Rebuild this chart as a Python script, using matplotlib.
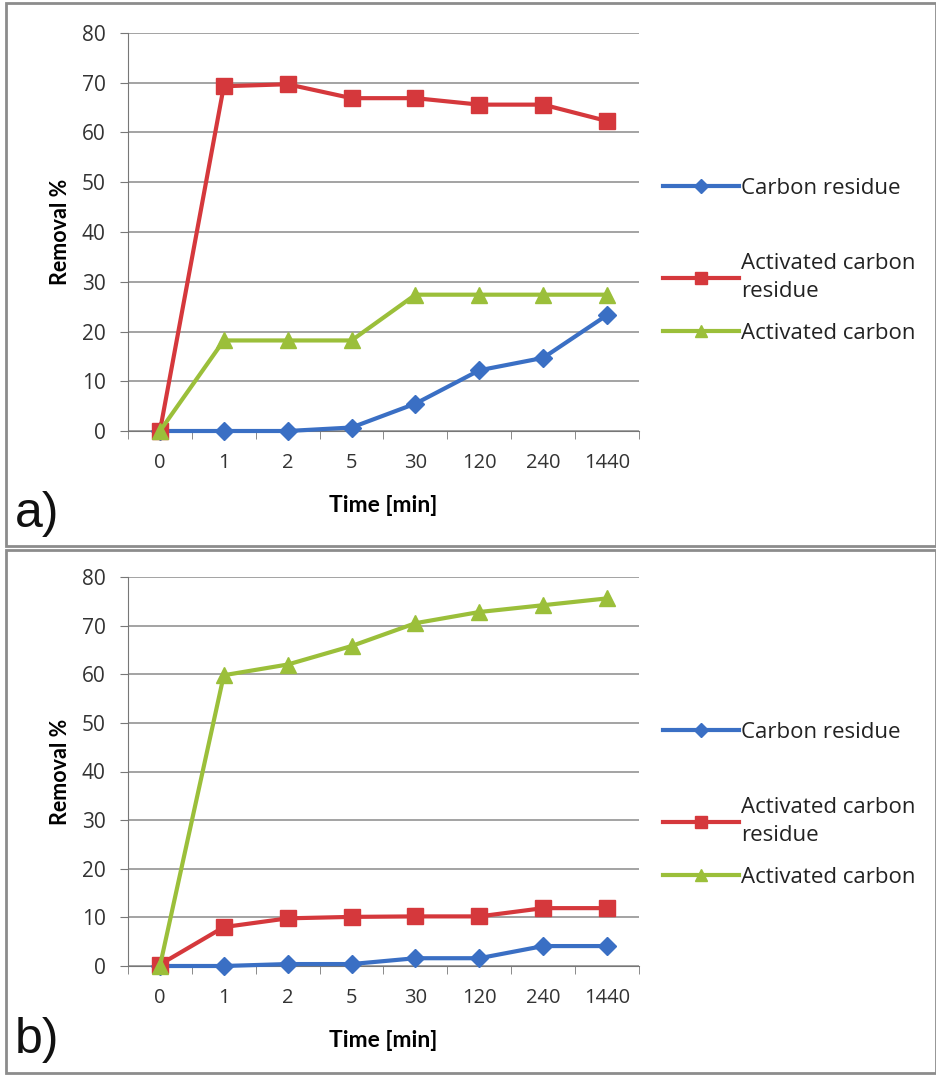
import matplotlib
matplotlib.use("Agg")
import matplotlib.pyplot as plt
from matplotlib.patches import Rectangle

# category labels on the x axis (Excel-style evenly spaced categories)
time_labels = ["0", "1", "2", "5", "30", "120", "240", "1440"]
series_names = ["Carbon residue", "Activated carbon\nresidue", "Activated carbon"]

# panel a)
a_carbon_residue = [0, 0, 0, 0.7, 5.5, 12.2, 14.7, 23.3]
a_activated_residue = [0, 69.3, 69.7, 66.9, 66.9, 65.6, 65.6, 62.3]
a_activated_carbon = [0, 18.2, 18.2, 18.2, 27.4, 27.4, 27.4, 27.4]

# panel b)
b_carbon_residue = [0, 0, 0.4, 0.4, 1.6, 1.6, 4.1, 4.1]
b_activated_residue = [0.3, 8.0, 9.8, 10.1, 10.2, 10.2, 11.9, 11.9]
b_activated_carbon = [0, 59.8, 62.0, 65.8, 70.5, 72.8, 74.2, 75.6]

COLORS = ["#3a6fc4", "#d5383c", "#9bbf3a"]
MARKERS = ["D", "s", "^"]
MSIZES = [9, 11, 11]
TICK_FONT = "Open Sans"
W, H = 937, 1076


def _legend(ax, handles, labels, anchor_y):
    leg = ax.legend(handles, labels, loc="upper left", bbox_to_anchor=(1.03, anchor_y),
                    frameon=False, prop={"family": TICK_FONT, "size": 16},
                    handlelength=3.4, handletextpad=0.1, labelspacing=0.95,
                    markerscale=0.75, borderaxespad=0)
    for t in leg.get_texts():
        t.set_color("#222222")
        t.set_linespacing(1.45)
    return leg


def _draw_panel(fig, rect, series, label, label_y, frame):
    ax = fig.add_axes(rect)
    x = list(range(len(time_labels)))
    lines = []
    for vals, name, color, marker, ms in zip(series, series_names, COLORS, MARKERS, MSIZES):
        ln, = ax.plot(x, vals, color=color, lw=3, marker=marker, ms=ms,
                      markeredgecolor=color, label=name, clip_on=False, zorder=3)
        lines.append(ln)
    ax.set_xlim(-0.5, len(time_labels) - 0.5)
    ax.set_ylim(0, 80)
    ax.set_yticks(range(0, 81, 10))
    ax.set_xticks(x)
    ax.set_xticklabels(time_labels, fontsize=14.5, family=TICK_FONT, color="#333333")
    for t in ax.get_yticklabels():
        t.set_fontsize(15)
        t.set_family(TICK_FONT)
        t.set_color("#333333")
    ax.set_xticks([i - 0.5 for i in range(len(time_labels) + 1)], minor=True)
    ax.tick_params(axis="x", which="major", length=0, pad=16)
    ax.tick_params(axis="x", which="minor", length=6, color="#777777", direction="out")
    ax.tick_params(axis="y", length=6, color="#777777", pad=10)
    ax.grid(True, axis="y", color="#8a8a8a", lw=1.1)
    ax.set_axisbelow(True)
    for side in ["top", "right"]:
        ax.spines[side].set_visible(False)
    ax.spines["left"].set_color("#777777")
    ax.spines["bottom"].set_color("#777777")
    ax.set_ylabel("Removal %", fontsize=15.5, fontweight="bold", family="Lato", labelpad=8)
    ax.set_xlabel("Time [min]", fontsize=16.5, fontweight="bold", family="Lato", labelpad=16)

    # Excel puts a wide gap after the first legend entry
    ax_h = rect[3] * H
    first = _legend(ax, lines[:1], series_names[:1], 1 - 136 / ax_h)
    ax.add_artist(first)
    _legend(ax, lines[1:], series_names[1:], 1 - 211 / ax_h)

    fig.text(15 / W, label_y, label, fontsize=36, family="Liberation Sans",
             va="center", ha="left", color="#111111")
    x0, y0, x1, y1 = frame
    fig.patches.append(Rectangle((x0 / W, 1 - y1 / H), (x1 - x0) / W, (y1 - y0) / H,
                                 transform=fig.transFigure, fill=False,
                                 edgecolor="#8c8c8c", lw=2))
    return ax


fig = plt.figure(figsize=(W / 100, H / 100), dpi=100)
fig.patch.set_facecolor("white")

ax_a = _draw_panel(
    fig, [128 / W, 1 - 431 / H, 511 / W, 398 / H],
    [a_carbon_residue, a_activated_residue, a_activated_carbon],
    "a)", 1 - 514 / H, (6, 3, 936, 546))
ax_b = _draw_panel(
    fig, [128 / W, 1 - 966 / H, 511 / W, 389 / H],
    [b_carbon_residue, b_activated_residue, b_activated_carbon],
    "b)", 1 - 1040 / H, (6, 550, 936, 1073))

fig.savefig("out.png", dpi=100)
